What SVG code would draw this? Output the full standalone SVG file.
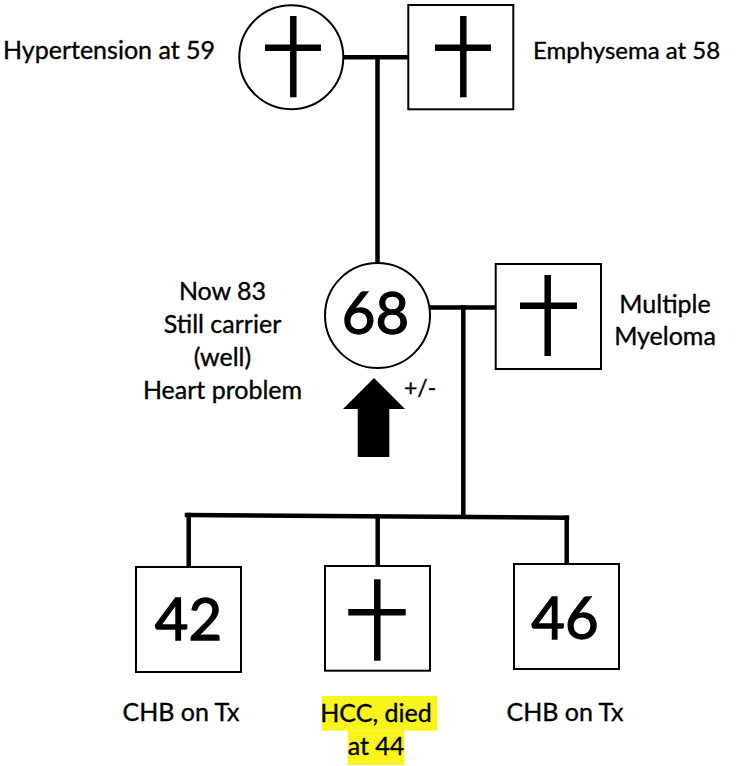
<svg xmlns="http://www.w3.org/2000/svg" width="738" height="766" viewBox="0 0 738 766">
<style>
.shape{fill:#fff;stroke:#000;stroke-width:2}
.cross{stroke:#000;stroke-width:6.5;fill:none}
.conn{stroke:#000;stroke-width:4.5;fill:none;stroke-linecap:square}
.lbl{font-family:Lato,"Open Sans","Liberation Sans",sans-serif;font-size:25px;fill:#000;stroke:#000;stroke-width:0.35}
.num{font-family:Lato,"Open Sans","Liberation Sans",sans-serif;font-size:58px;fill:#000;stroke:#000;stroke-width:1.3;text-anchor:middle}
.mid{text-anchor:middle}
.hl{fill:#f9f51c}
</style>
<rect width="738" height="766" fill="#fff"/>
<g id="connectors">
<line class="conn" x1="343" y1="57.3" x2="408" y2="57.3"/>
<line class="conn" x1="377.5" y1="57.3" x2="377.5" y2="263"/>
<line class="conn" x1="430" y1="307.5" x2="494" y2="307.5"/>
<line class="conn" x1="463.3" y1="307.5" x2="463.3" y2="516.5"/>
<line class="conn" x1="187" y1="515" x2="567" y2="517.7"/>
<line class="conn" x1="188.7" y1="515" x2="188.7" y2="567"/>
<line class="conn" x1="377.7" y1="516.3" x2="377.7" y2="566"/>
<line class="conn" x1="566.7" y1="517.7" x2="566.7" y2="565"/>
</g>
<g id="grandmother">
<circle class="shape" cx="291.3" cy="57.2" r="52"/>
<line class="cross" x1="293.3" y1="16" x2="293.3" y2="97.3"/>
<line class="cross" x1="265" y1="47.7" x2="321" y2="47.7"/>
<text class="lbl" x="3" y="59">Hypertension at 59</text>
</g>
<g id="grandfather">
<rect class="shape" x="408.3" y="5" width="105" height="104.3"/>
<line class="cross" x1="463.3" y1="16" x2="463.3" y2="97.3"/>
<line class="cross" x1="435" y1="47.7" x2="491" y2="47.7"/>
<text class="lbl" x="533" y="59" style="font-size:24px">Emphysema at 58</text>
</g>
<g id="mother">
<circle class="shape" cx="377.5" cy="315.5" r="52.5"/>
<text class="num" x="375.5" y="334">68</text>
<text class="lbl mid" x="222.5" y="299.5">Now 83</text>
<text class="lbl mid" x="222.5" y="333">Still carrier</text>
<text class="lbl mid" x="222.5" y="366">(well)</text>
<text class="lbl mid" x="222.5" y="399">Heart problem</text>
<polygon points="374,378 343,409 357.7,409 357.7,457 389.3,457 389.3,409 405,409" fill="#000"/>
<text class="lbl" x="404" y="396" style="font-size:23px">+/-</text>
</g>
<g id="father">
<rect class="shape" x="495.7" y="264" width="105.3" height="105"/>
<line class="cross" x1="547.7" y1="275" x2="547.7" y2="356"/>
<line class="cross" x1="520" y1="305.7" x2="577" y2="305.7"/>
<text class="lbl mid" x="665" y="313">Multiple</text>
<text class="lbl mid" x="665" y="345">Myeloma</text>
</g>
<g id="child1">
<rect class="shape" x="136" y="567" width="105" height="105"/>
<text class="num" x="188.5" y="639.5">42</text>
<text class="lbl mid" x="181" y="721">CHB on Tx</text>
</g>
<g id="child2">
<rect class="shape" x="325" y="566" width="105" height="104.7"/>
<line class="cross" x1="377.3" y1="579.3" x2="377.3" y2="660.7"/>
<line class="cross" x1="348.3" y1="612.3" x2="405.7" y2="612.3"/>
<rect class="hl" x="321.7" y="696" width="115.6" height="34.7"/>
<rect class="hl" x="347.7" y="730.7" width="56.6" height="34.3"/>
<text class="lbl mid" x="376" y="722">HCC, died</text>
<text class="lbl mid" x="376" y="755">at 44</text>
</g>
<g id="child3">
<rect class="shape" x="514" y="564" width="105" height="105"/>
<text class="num" x="565" y="639">46</text>
<text class="lbl mid" x="565" y="721">CHB on Tx</text>
</g>
</svg>
